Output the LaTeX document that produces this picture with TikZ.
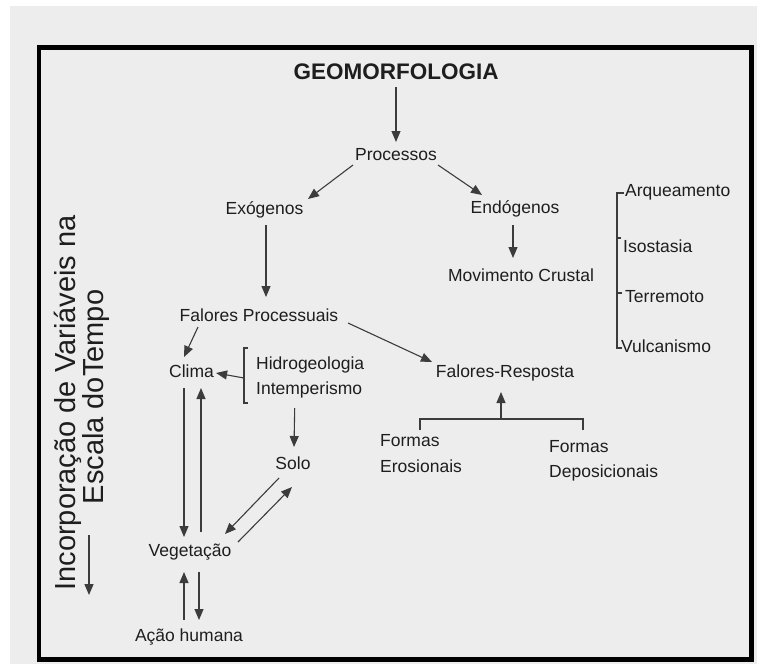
\documentclass[tikz,border=0pt]{standalone}
\usepackage{fontspec}
\setmainfont{Liberation Sans}
\usetikzlibrary{arrows.meta,calc}
\definecolor{bgc}{HTML}{EDEDED}
\definecolor{txt}{HTML}{1E1E1E}
\definecolor{lnc}{HTML}{3C3C3C}
\begin{document}
\begin{tikzpicture}[x=1pt,y=-1pt,
 lbl/.style={inner sep=0pt, text height=12.5pt, text depth=3.5pt, font=\fontsize{17.5}{21}\selectfont, text=txt},
 vlbl/.style={inner sep=0pt, rotate=90, anchor=base, font=\fontsize{29}{29}\selectfont, text=txt},
 arr/.style={draw=lnc, line width=1.1pt, -{Triangle[length=11pt,width=9pt]}},
 brk/.style={draw=lnc, line width=1.1pt},
]
\useasboundingbox (0,0) rectangle (757,664);
\fill[white] (0,0) rectangle (757,664);
\fill[bgc] (10,6) rectangle (757,664);
\draw[line width=4.5pt, black] (39,47.5) rectangle (751.5,659.5);

% nodes
\node[inner sep=0pt, text=txt, font=\fontsize{22.5}{26}\selectfont\bfseries] (geo) at (396,72) {GEOMORFOLOGIA};
\node[lbl] (proc) at (396,156) {Processos};
\node[lbl] (exo) at (264.5,210) {Exógenos};
\node[lbl] (endo) at (515,209) {Endógenos};
\node[lbl] (mov) at (521,277) {Movimento Crustal};
\node[lbl] (fp) at (259,317) {Falores Processuais};
\node[lbl] (fr) at (505,373) {Falores-Resposta};
\node[lbl] (clima) at (191.5,373) {Clima};
\node[lbl, anchor=west] (hid) at (256,365) {Hidrogeologia};
\node[lbl, anchor=west] (intp) at (256,390) {Intemperismo};
\node[lbl] (solo) at (293,465) {Solo};
\node[lbl] (veg) at (190,552) {Vegetação};
\node[lbl] (acao) at (189,637) {Ação humana};
\node[lbl, anchor=west] (fe) at (380,442) {Formas};
\node[lbl, anchor=west] (fe2) at (380,468) {Erosionais};
\node[lbl, anchor=west] (fd) at (549,448) {Formas};
\node[lbl, anchor=west] (fd2) at (549,473) {Deposicionais};
\node[lbl, anchor=west] (arq) at (625,192) {Arqueamento};
\node[lbl, anchor=west] (iso) at (623,248) {Isostasia};
\node[lbl, anchor=west] (ter) at (625,298) {Terremoto};
\node[lbl, anchor=west] (vul) at (621,348) {Vulcanismo};
\node[vlbl] (vt1) at (75,403) {Incorporação de Variáveis na};
\node[vlbl] (vt2) at (103,397) {Escala doTempo};

% connectors
\draw[arr] ($(geo)+(0,15)$) -- ($(proc)+(0,-14)$);
\draw[arr] ($(proc)+(-43,9)$) -- ($(exo)+(43.5,-11)$);
\draw[arr] ($(proc)+(42,9)$) -- ($(endo)+(-33,-14)$);
\draw[arr] ($(endo)+(-2,16)$) -- ($(mov)+(-8,-19)$);
\draw[arr] ($(exo)+(1.5,15)$) -- ($(fp)+(7,-20)$);
\draw[arr] ($(fp)+(-61,10)$) -- ($(clima)+(-7.5,-16)$);
\draw[arr] ($(fp)+(89,6)$) -- ($(fr)+(-73,-11)$);
% Hidrogeologia / Intemperismo bracket
\coordinate (hb) at ($(hid.west)!0.5!(intp.west)+(-12,0)$);
\draw[brk] ($(hid.west)+(-8,-17)$) -- ($(hid.west)+(-12,-17)$) -- ($(intp.west)+(-12,13)$) -- ($(intp.west)+(-8,13)$);
\draw[arr] ($(hb)+(0,0.5)$) -- ($(clima.east)+(2,0)$);
\draw[arr] ($(intp)+(-14.5,18)$) -- ($(solo)+(1,-18)$);
% Clima <-> Vegetacao
\draw[arr] ($(clima)+(-7.5,15)$) -- ($(veg)+(-6,-15)$);
\draw[arr] ($(veg)+(11,-20)$) -- ($(clima)+(9.5,15)$);
% Solo <-> Vegetacao
\draw[arr] ($(solo)+(-14,13)$) -- ($(veg)+(35,-18)$);
\draw[arr] ($(veg)+(48,-10)$) -- ($(solo)+(-1,22)$);
% Vegetacao <-> Acao humana
\draw[arr] ($(acao)+(-5,-17)$) -- ($(veg)+(-6,20)$);
\draw[arr] ($(veg)+(9,20)$) -- ($(acao)+(10,-17)$);
% Formas bracket
\coordinate (fb) at (501,419);
\draw[brk] (420,430) -- (420,419) -- (583,419) -- (583,430);
\draw[arr] (fb) -- ($(fr)+(-4,19)$);
% right bracket
\draw[brk] ($(arq.west)+(-1,1)$) -- ($(arq.west)+(-8,1)$) -- ($(vul.west)+(-4,0)$) -- ($(vul.west)+(1,0)$);
\draw[brk] ($(iso.west)+(-6,-10)$) -- ($(iso.west)+(-2,-10)$);
\draw[brk] ($(ter.west)+(-8,-5)$) -- ($(ter.west)+(-3,-5)$);
% time arrow
\coordinate (ta) at (89,535);
\coordinate (tb) at (89,595);
\draw[arr, line width=1.4pt] (ta) -- (tb);
\end{tikzpicture}
\end{document}
